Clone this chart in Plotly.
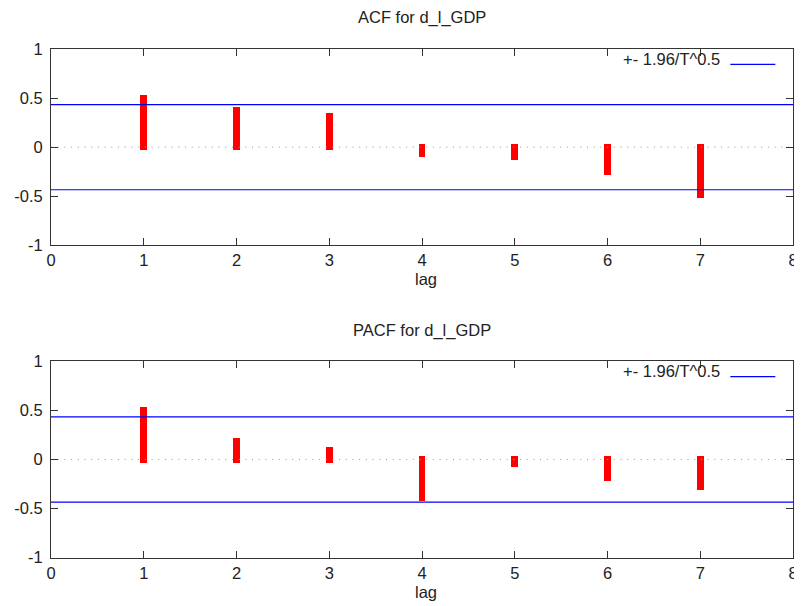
import plotly.graph_objects as go

lags = [1, 2, 3, 4, 5, 6, 7]
acf_vals = [0.50, 0.38, 0.316, -0.068, -0.095, -0.251, -0.479]
pacf_vals = [0.502, 0.183, 0.092, -0.39, -0.041, -0.187, -0.278]
band = 0.434
x_ticks = [0, 1, 2, 3, 4, 5, 6, 7, 8]
y_ticks = [-1, -0.5, 0, 0.5, 1]
y_ticktext = ["-1", "-0.5", "0", "0.5", "1"]
titles = ["ACF for d_l_GDP", "PACF for d_l_GDP"]
legend_text = "+- 1.96/T^0.5"

# the page body has an 8px margin, so the figure is offset by (8, 8)
OFF = 8
W, H = 802 - OFF, 606 - OFF
FONT = "Liberation Sans, Arial, Helvetica, sans-serif"
FS = 16.5
EXT = 0.034  # visual end extension of thick impulse lines
ML = 50.67 - OFF
MR = W - (792.67 - OFF)

# vertical screen positions of frames (top, bottom)
frames = [(49, 245.3), (361.3, 557.7)]

def py(p):
    return 1 - (p - OFF) / H

def px(p):
    return (p - OFF - ML) / (W - ML - MR)

fig = go.Figure()
layout = dict(
    width=W, height=H,
    margin=dict(l=ML, r=MR, t=0, b=0, autoexpand=False, pad=0),
    paper_bgcolor="white", plot_bgcolor="white",
    showlegend=False,
    font=dict(family=FONT, size=FS, color="#222222"),
)

annotations = []
shapes = []
series = [acf_vals, pacf_vals]
for i, vals in enumerate(series):
    xa = "x" if i == 0 else "x2"
    ya = "y" if i == 0 else "y2"
    top, bot = frames[i]
    # dotted zero line
    fig.add_trace(go.Scatter(x=[x_ticks[0], x_ticks[-1]], y=[0, 0], mode="lines",
                             line=dict(color="#9a9a9a", width=1, dash="1px,5.7px"),
                             xaxis=xa, yaxis=ya, hoverinfo="skip"))
    bases = [-EXT if v >= 0 else EXT for v in vals]
    heights = [v + 2 * EXT if v >= 0 else v - 2 * EXT for v in vals]
    fig.add_trace(go.Bar(x=lags, y=heights, base=bases, width=0.072,
                         marker=dict(color="#ff0000", line=dict(width=0)),
                         xaxis=xa, yaxis=ya, hoverinfo="skip"))
    for s in (1, -1):
        fig.add_trace(go.Scatter(x=[x_ticks[0], x_ticks[-1]], y=[s * band, s * band],
                                 mode="lines", line=dict(color="#0000ff", width=1.2),
                                 xaxis=xa, yaxis=ya, hoverinfo="skip"))
    axis_common = dict(showline=True, linecolor="#333333", linewidth=1, mirror="ticks",
                       ticks="inside", ticklen=7, tickcolor="#333333", tickwidth=1,
                       showgrid=False, zeroline=False, automargin=False,
                       ticklabeloverflow="allow",
                       tickfont=dict(family=FONT, size=FS, color="#222222"))
    layout["xaxis" if i == 0 else "xaxis2"] = dict(
        axis_common, range=[0, 8], tickvals=x_ticks, ticktext=[str(t) for t in x_ticks],
        domain=[0, 1], anchor=ya)
    layout["yaxis" if i == 0 else "yaxis2"] = dict(
        axis_common, range=[-1, 1], tickvals=y_ticks, ticktext=y_ticktext,
        domain=[py(bot), py(top)], anchor=xa, ticklabelstandoff=4)
    # title
    annotations.append(dict(text=titles[i], xref="paper", yref="paper", x=px(422),
                            y=py(top - 31), xanchor="center", yanchor="middle",
                            showarrow=False, font=dict(family=FONT, size=FS, color="#222222")))
    # x label
    annotations.append(dict(text="lag", xref="paper", yref="paper",
                            x=px(426), y=py(bot + 34),
                            xanchor="center", yanchor="middle", showarrow=False,
                            font=dict(family=FONT, size=FS, color="#222222")))
    # legend
    annotations.append(dict(text=legend_text, xref="paper", yref="paper",
                            x=px(722), y=py(top + 9.5),
                            xanchor="right", yanchor="middle", showarrow=False,
                            font=dict(family=FONT, size=FS, color="#222222")))
    shapes.append(dict(type="line", xref="paper", yref="paper",
                       x0=px(730), x1=px(775),
                       y0=py(top + 15.3), y1=py(top + 15.3),
                       line=dict(color="#0000ff", width=1.2)))

layout["annotations"] = annotations
layout["shapes"] = shapes
layout["bargap"] = 0
fig.update_layout(**layout)
fig.write_html("out.html")
